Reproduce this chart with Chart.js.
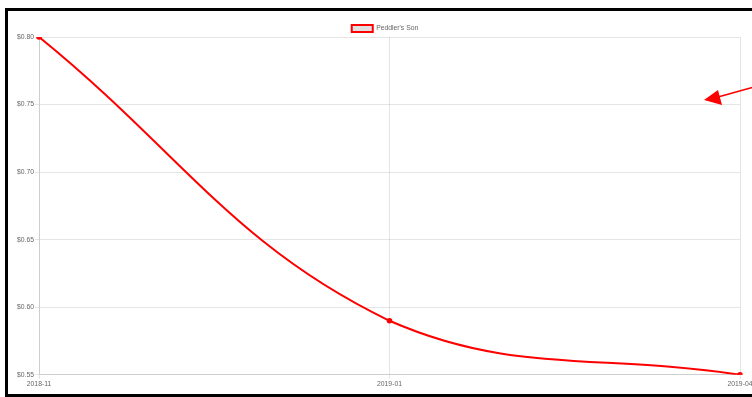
<!DOCTYPE html>
<html>
<head>
<meta charset="utf-8">
<title>Peddler's Son</title>
<script src="https://cdn.jsdelivr.net/npm/chart.js@4/dist/chart.umd.min.js"></script>
<style>
  html, body { margin: 0; padding: 0; background: #fff; width: 752px; height: 397px; overflow: hidden; }
  #wrap { position: absolute; left: 0; top: 0; width: 766px; height: 397px; }
  #frame { position: absolute; left: 5px; top: 8px; width: 820px; height: 383px; border: 3px solid #000; pointer-events: none; }
</style>
</head>
<body>
<div id="wrap"><canvas id="c"></canvas></div>
<div id="frame"></div>
<script>
// Price history for a single item
const months = ['2018-11', '2019-01', '2019-04'];
const prices = [0.80, 0.59, 0.55];
const seriesName = "Peddler's Son";
const yTicks = [0.55, 0.60, 0.65, 0.70, 0.75, 0.80];

// Tighten the gap between the legend row and the plot, and nudge the row
const compactLegend = {
  id: 'compactLegend',
  beforeLayout(chart) {
    const lg = chart.legend;
    if (lg && !lg._compact) {
      const fit = lg.fit.bind(lg);
      lg.fit = function () { fit(); this.height = Math.max(0, this.height - 6); };
      lg._compact = true;
    }
  },
  afterLayout(chart) {
    const lg = chart.legend;
    if (lg) {
      lg.left += 7; lg.right += 7;
      lg.top -= 1; lg.bottom -= 1;
    }
  }
};

// Callout arrow pointing into the upper-right of the plot
const calloutArrow = {
  id: 'calloutArrow',
  afterDraw(chart) {
    const ctx = chart.ctx;
    ctx.save();
    ctx.strokeStyle = '#ff0000';
    ctx.fillStyle = '#ff0000';
    ctx.lineWidth = 1.5;
    ctx.beginPath();
    ctx.moveTo(754, 87);
    ctx.lineTo(718, 97);
    ctx.stroke();
    ctx.beginPath();
    ctx.moveTo(704, 100);
    ctx.lineTo(718, 90);
    ctx.lineTo(722, 105);
    ctx.closePath();
    ctx.fill();
    ctx.restore();
  }
};

Chart.defaults.font.family = '"Liberation Sans", Arial, Helvetica, sans-serif';
Chart.defaults.font.size = 6.8;
Chart.defaults.color = '#666';

new Chart(document.getElementById('c'), {
  type: 'line',
  data: {
    labels: months,
    datasets: [{
      label: seriesName,
      data: prices,
      borderColor: '#ff0000',
      backgroundColor: 'rgba(0,0,0,0.12)',
      borderWidth: 2,
      pointRadius: 1.8,
      pointBackgroundColor: '#ff0000',
      pointBorderColor: '#ff0000',
      tension: 0.4,
      fill: false
    }]
  },
  options: {
    responsive: true,
    maintainAspectRatio: false,
    animation: false,
    layout: { padding: { left: 16, right: 26, top: 25, bottom: 8 } },
    plugins: {
      legend: {
        display: true,
        labels: { boxWidth: 21, boxHeight: 7, padding: 1, font: { size: 6.8 } }
      },
      tooltip: { enabled: false }
    },
    scales: {
      x: {
        type: 'category',
        offset: false,
        grid: { color: 'rgba(0,0,0,0.1)', tickLength: 4 },
        border: { color: 'rgba(0,0,0,0.1)' },
        ticks: { padding: 1, maxRotation: 0, autoSkip: false }
      },
      y: {
        min: 0.55,
        max: 0.80,
        afterBuildTicks(scale) { scale.ticks = yTicks.map(v => ({ value: v })); },
        grid: { color: 'rgba(0,0,0,0.1)', tickLength: 4 },
        border: { color: 'rgba(0,0,0,0.1)' },
        ticks: { padding: 1, callback: v => '$' + Number(v).toFixed(2) }
      }
    }
  },
  plugins: [compactLegend, calloutArrow]
});
</script>
</body>
</html>
